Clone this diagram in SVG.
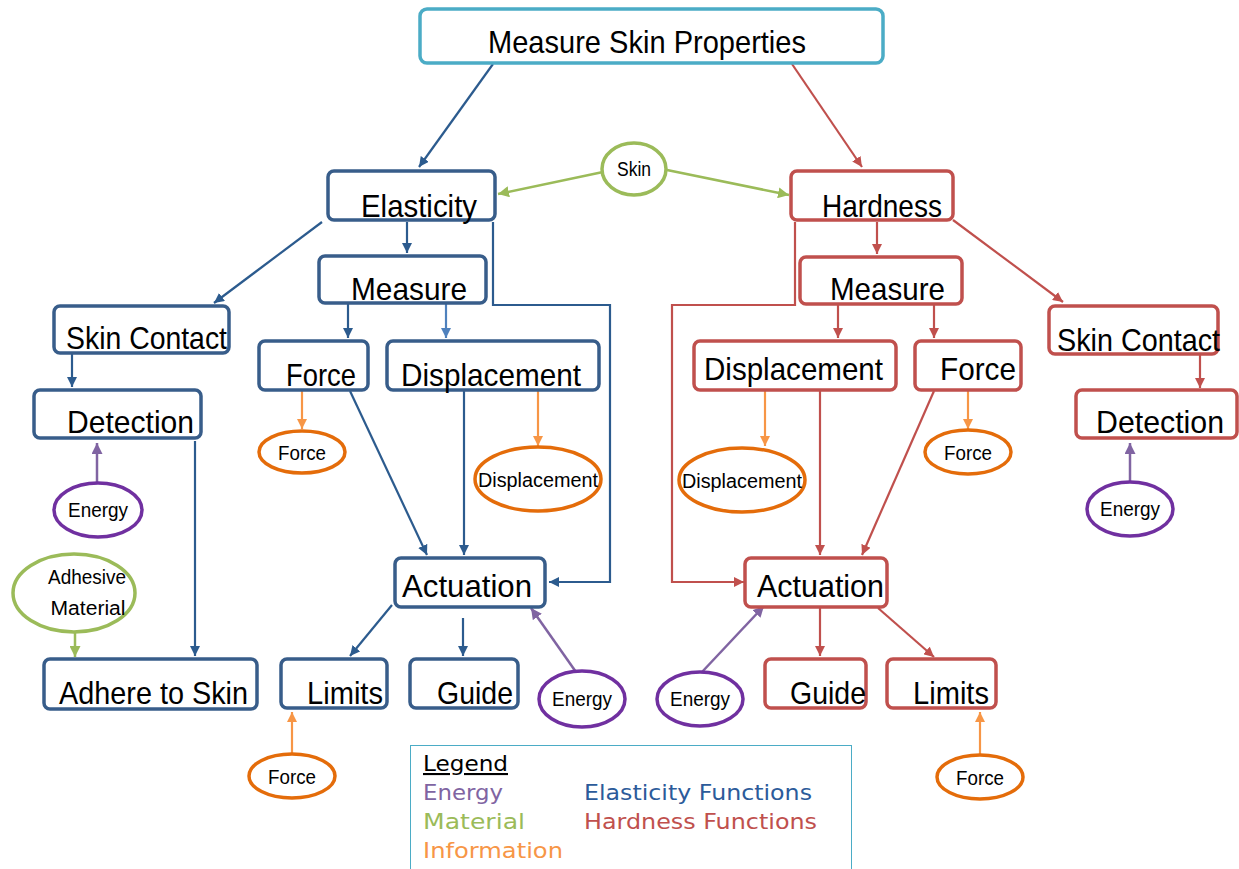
<svg xmlns="http://www.w3.org/2000/svg" width="1239" height="869" viewBox="0 0 1239 869">
<defs>
<style>
.bb{fill:#fff;stroke:#385d8a;stroke-width:3.5}
.rb{fill:#fff;stroke:#c0504d;stroke-width:3.5}
.tb{fill:#fff;stroke:#4bacc6;stroke-width:3.5}
.lbl{font-family:"Liberation Sans Narrow","Liberation Sans",sans-serif;font-size:32px;fill:#000}
.sm{font-family:"Liberation Sans Narrow","Liberation Sans",sans-serif;font-size:20px;fill:#000}
.oe{fill:#fff;stroke:#e46c0a;stroke-width:3.5}
.pe{fill:#fff;stroke:#7030a0;stroke-width:3.5}
.ge{fill:#fff;stroke:#9bbb59;stroke-width:3.5}
.cb{fill:none;stroke:#2c5b8e;stroke-width:2.2}
.cl{fill:none;stroke:#4f81bd;stroke-width:2.2}
.cr{fill:none;stroke:#c0504d;stroke-width:2.2}
.cg{fill:none;stroke:#9bbb59;stroke-width:2.5}
.co{fill:none;stroke:#f79646;stroke-width:2.2}
.cp{fill:none;stroke:#8064a2;stroke-width:2.5}
.lg{font-family:"DejaVu Sans",sans-serif;font-size:21px}
</style>
<marker id="ab" viewBox="0 0 10 10" refX="10" refY="5" markerWidth="10" markerHeight="10" markerUnits="userSpaceOnUse" orient="auto"><path d="M0,0 L10,5 L0,10 z" fill="#2c5b8e"/></marker>
<marker id="al" viewBox="0 0 10 10" refX="10" refY="5" markerWidth="10" markerHeight="10" markerUnits="userSpaceOnUse" orient="auto"><path d="M0,0 L10,5 L0,10 z" fill="#4f81bd"/></marker>
<marker id="ar" viewBox="0 0 10 10" refX="10" refY="5" markerWidth="10" markerHeight="10" markerUnits="userSpaceOnUse" orient="auto"><path d="M0,0 L10,5 L0,10 z" fill="#c0504d"/></marker>
<marker id="ag" viewBox="0 0 10 10" refX="10" refY="5" markerWidth="11" markerHeight="11" markerUnits="userSpaceOnUse" orient="auto"><path d="M0,0 L10,5 L0,10 z" fill="#9bbb59"/></marker>
<marker id="ao" viewBox="0 0 10 10" refX="10" refY="5" markerWidth="10" markerHeight="10" markerUnits="userSpaceOnUse" orient="auto"><path d="M0,0 L10,5 L0,10 z" fill="#f79646"/></marker>
<marker id="ap" viewBox="0 0 10 10" refX="10" refY="5" markerWidth="11" markerHeight="11" markerUnits="userSpaceOnUse" orient="auto"><path d="M0,0 L10,5 L0,10 z" fill="#8064a2"/></marker>
</defs>
<rect width="1239" height="869" fill="#fff"/>

<g id="connectors">
<line class="cb" x1="493" y1="64" x2="419" y2="167" marker-end="url(#ab)"/>
<line class="cr" x1="792" y1="64" x2="862" y2="167" marker-end="url(#ar)"/>
<line class="cg" x1="603" y1="172" x2="498" y2="194" marker-end="url(#ag)"/>
<line class="cg" x1="667" y1="170" x2="789" y2="195" marker-end="url(#ag)"/>
<line class="cb" x1="322" y1="222" x2="214" y2="303" marker-end="url(#ab)"/>
<line class="cb" x1="407" y1="222" x2="407" y2="253" marker-end="url(#ab)"/>
<polyline class="cb" points="493,222 493,305 610,305 610,582 549,582" marker-end="url(#ab)"/>
<line class="cb" x1="72" y1="354" x2="72" y2="387" marker-end="url(#ab)"/>
<line class="cp" x1="97" y1="483" x2="97" y2="443" marker-end="url(#ap)"/>
<line class="cb" x1="195" y1="441" x2="195" y2="656" marker-end="url(#ab)"/>
<line class="cg" x1="75" y1="632" x2="75" y2="657" marker-end="url(#ag)"/>
<line class="cb" x1="348" y1="304" x2="348" y2="338" marker-end="url(#ab)"/>
<line class="cl" x1="446" y1="304" x2="446" y2="338" marker-end="url(#al)"/>
<line class="co" x1="302" y1="391" x2="302" y2="429" marker-end="url(#ao)"/>
<line class="co" x1="538" y1="391" x2="538" y2="446" marker-end="url(#ao)"/>
<line class="cb" x1="350" y1="391" x2="427" y2="555" marker-end="url(#ab)"/>
<line class="cb" x1="464" y1="391" x2="464" y2="555" marker-end="url(#ab)"/>
<line class="cb" x1="392" y1="605" x2="350" y2="656" marker-end="url(#ab)"/>
<line class="cb" x1="463" y1="618" x2="463" y2="656" marker-end="url(#ab)"/>
<line class="cp" x1="576" y1="672" x2="531" y2="608" marker-end="url(#ap)"/>
<line class="co" x1="292" y1="754" x2="292" y2="712" marker-end="url(#ao)"/>
<polyline class="cr" points="795,222 795,305 672,305 672,582 744,582" marker-end="url(#ar)"/>
<line class="cr" x1="877" y1="222" x2="877" y2="254" marker-end="url(#ar)"/>
<line class="cr" x1="953" y1="220" x2="1063" y2="302" marker-end="url(#ar)"/>
<line class="cr" x1="838" y1="305" x2="838" y2="338" marker-end="url(#ar)"/>
<line class="cr" x1="934" y1="305" x2="934" y2="338" marker-end="url(#ar)"/>
<line class="cr" x1="1200" y1="355" x2="1200" y2="388" marker-end="url(#ar)"/>
<line class="cp" x1="1130" y1="482" x2="1130" y2="443" marker-end="url(#ap)"/>
<line class="co" x1="765" y1="391" x2="765" y2="446" marker-end="url(#ao)"/>
<line class="co" x1="968" y1="391" x2="968" y2="429" marker-end="url(#ao)"/>
<line class="cr" x1="820" y1="391" x2="820" y2="555" marker-end="url(#ar)"/>
<line class="cr" x1="934" y1="391" x2="862" y2="555" marker-end="url(#ar)"/>
<line class="cr" x1="820" y1="608" x2="820" y2="656" marker-end="url(#ar)"/>
<line class="cr" x1="878" y1="608" x2="934" y2="657" marker-end="url(#ar)"/>
<line class="cp" x1="702" y1="672" x2="764" y2="606" marker-end="url(#ap)"/>
<line class="co" x1="980" y1="754" x2="980" y2="712" marker-end="url(#ao)"/>
</g>

<g id="measure-skin-properties"><rect class="tb" x="420" y="9" width="463" height="54" rx="7"/><text class="lbl" x="488" y="53" textLength="318" lengthAdjust="spacingAndGlyphs">Measure Skin Properties</text></g>
<g id="skin"><ellipse class="ge" cx="634" cy="169" rx="32" ry="26"/><text class="sm" x="634" y="176" text-anchor="middle" textLength="34" lengthAdjust="spacingAndGlyphs">Skin</text></g>

<g id="elasticity"><rect class="bb" x="328" y="171" width="167" height="49" rx="6"/><text class="lbl" x="361" y="217" textLength="116" lengthAdjust="spacingAndGlyphs">Elasticity</text></g>
<g id="e-skin-contact"><rect class="bb" x="54" y="306" width="175" height="47" rx="6"/><text class="lbl" x="66" y="349" textLength="161" lengthAdjust="spacingAndGlyphs">Skin Contact</text></g>
<g id="e-detection"><rect class="bb" x="34" y="390" width="167" height="48" rx="6"/><text class="lbl" x="67" y="433" textLength="127" lengthAdjust="spacingAndGlyphs">Detection</text></g>
<g id="e-energy-detect"><ellipse class="pe" cx="98" cy="510" rx="44" ry="27"/><text class="sm" x="98" y="517" text-anchor="middle" textLength="60" lengthAdjust="spacingAndGlyphs">Energy</text></g>
<g id="adhesive-material"><ellipse class="ge" cx="74" cy="593" rx="61" ry="39"/><text class="sm" x="87" y="584" text-anchor="middle" textLength="78" lengthAdjust="spacingAndGlyphs">Adhesive</text><text class="sm" x="88" y="615" text-anchor="middle" textLength="75" lengthAdjust="spacingAndGlyphs">Material</text></g>
<g id="adhere-to-skin"><rect class="bb" x="44" y="659" width="213" height="50" rx="6"/><text class="lbl" x="59" y="704" textLength="189" lengthAdjust="spacingAndGlyphs">Adhere to Skin</text></g>
<g id="e-measure"><rect class="bb" x="319" y="256" width="167" height="47" rx="6"/><text class="lbl" x="351" y="300" textLength="116" lengthAdjust="spacingAndGlyphs">Measure</text></g>
<g id="e-force"><rect class="bb" x="259" y="341" width="109" height="49" rx="6"/><text class="lbl" x="286" y="386" textLength="70" lengthAdjust="spacingAndGlyphs">Force</text></g>
<g id="e-displacement"><rect class="bb" x="387" y="341" width="212" height="49" rx="6"/><text class="lbl" x="401" y="386" textLength="180" lengthAdjust="spacingAndGlyphs">Displacement</text></g>
<g id="e-force-info"><ellipse class="oe" cx="302" cy="452" rx="43" ry="21"/><text class="sm" x="302" y="460" text-anchor="middle" textLength="48" lengthAdjust="spacingAndGlyphs">Force</text></g>
<g id="e-displacement-info"><ellipse class="oe" cx="538" cy="479" rx="63" ry="32"/><text class="sm" x="538" y="487" text-anchor="middle" textLength="120" lengthAdjust="spacingAndGlyphs">Displacement</text></g>
<g id="e-actuation"><rect class="bb" x="395" y="558" width="150" height="49" rx="6"/><text class="lbl" x="402" y="597" textLength="130" lengthAdjust="spacingAndGlyphs">Actuation</text></g>
<g id="e-limits"><rect class="bb" x="281" y="659" width="106" height="49" rx="6"/><text class="lbl" x="307" y="704" textLength="76" lengthAdjust="spacingAndGlyphs">Limits</text></g>
<g id="e-guide"><rect class="bb" x="410" y="659" width="108" height="49" rx="6"/><text class="lbl" x="437" y="704" textLength="76" lengthAdjust="spacingAndGlyphs">Guide</text></g>
<g id="e-energy-act"><ellipse class="pe" cx="582" cy="699" rx="43" ry="28"/><text class="sm" x="582" y="706" text-anchor="middle" textLength="60" lengthAdjust="spacingAndGlyphs">Energy</text></g>
<g id="e-force-limits"><ellipse class="oe" cx="292" cy="776" rx="43" ry="22"/><text class="sm" x="292" y="784" text-anchor="middle" textLength="48" lengthAdjust="spacingAndGlyphs">Force</text></g>

<g id="hardness"><rect class="rb" x="791" y="171" width="162" height="49" rx="6"/><text class="lbl" x="822" y="217" textLength="120" lengthAdjust="spacingAndGlyphs">Hardness</text></g>
<g id="h-measure"><rect class="rb" x="800" y="257" width="162" height="47" rx="6"/><text class="lbl" x="830" y="300" textLength="115" lengthAdjust="spacingAndGlyphs">Measure</text></g>
<g id="h-displacement"><rect class="rb" x="694" y="341" width="202" height="49" rx="6"/><text class="lbl" x="704" y="380" textLength="179" lengthAdjust="spacingAndGlyphs">Displacement</text></g>
<g id="h-force"><rect class="rb" x="915" y="341" width="106" height="49" rx="6"/><text class="lbl" x="940" y="380" textLength="76" lengthAdjust="spacingAndGlyphs">Force</text></g>
<g id="h-skin-contact"><rect class="rb" x="1049" y="306" width="169" height="48" rx="6"/><text class="lbl" x="1057" y="351" textLength="163" lengthAdjust="spacingAndGlyphs">Skin Contact</text></g>
<g id="h-detection"><rect class="rb" x="1076" y="390" width="161" height="48" rx="6"/><text class="lbl" x="1096" y="433" textLength="128" lengthAdjust="spacingAndGlyphs">Detection</text></g>
<g id="h-energy-detect"><ellipse class="pe" cx="1130" cy="509" rx="43" ry="27"/><text class="sm" x="1130" y="516" text-anchor="middle" textLength="60" lengthAdjust="spacingAndGlyphs">Energy</text></g>
<g id="h-displacement-info"><ellipse class="oe" cx="742" cy="480" rx="63" ry="32"/><text class="sm" x="742" y="488" text-anchor="middle" textLength="120" lengthAdjust="spacingAndGlyphs">Displacement</text></g>
<g id="h-force-info"><ellipse class="oe" cx="968" cy="452" rx="43" ry="22"/><text class="sm" x="968" y="460" text-anchor="middle" textLength="48" lengthAdjust="spacingAndGlyphs">Force</text></g>
<g id="h-actuation"><rect class="rb" x="745" y="558" width="142" height="49" rx="6"/><text class="lbl" x="757" y="597" textLength="127" lengthAdjust="spacingAndGlyphs">Actuation</text></g>
<g id="h-guide"><rect class="rb" x="765" y="659" width="101" height="49" rx="6"/><text class="lbl" x="790" y="704" textLength="76" lengthAdjust="spacingAndGlyphs">Guide</text></g>
<g id="h-limits"><rect class="rb" x="887" y="659" width="109" height="49" rx="6"/><text class="lbl" x="913" y="704" textLength="76" lengthAdjust="spacingAndGlyphs">Limits</text></g>
<g id="h-energy-act"><ellipse class="pe" cx="700" cy="699" rx="43" ry="27"/><text class="sm" x="700" y="706" text-anchor="middle" textLength="60" lengthAdjust="spacingAndGlyphs">Energy</text></g>
<g id="h-force-limits"><ellipse class="oe" cx="980" cy="777" rx="43" ry="22"/><text class="sm" x="980" y="785" text-anchor="middle" textLength="48" lengthAdjust="spacingAndGlyphs">Force</text></g>

<g id="legend">
<rect x="410.5" y="745.5" width="441" height="130" fill="#fff" stroke="#4bacc6" stroke-width="1"/>
<text class="lg" x="423" y="771" fill="#000" text-decoration="underline" textLength="85" lengthAdjust="spacingAndGlyphs">Legend</text>
<text class="lg" x="423" y="800" fill="#8064a2" textLength="80" lengthAdjust="spacingAndGlyphs">Energy</text>
<text class="lg" x="423" y="829" fill="#9bbb59" textLength="102" lengthAdjust="spacingAndGlyphs">Material</text>
<text class="lg" x="423" y="858" fill="#f79646" textLength="140" lengthAdjust="spacingAndGlyphs">Information</text>
<text class="lg" x="584" y="800" fill="#2c5b9a" textLength="228" lengthAdjust="spacingAndGlyphs">Elasticity Functions</text>
<text class="lg" x="584" y="829" fill="#c0504d" textLength="233" lengthAdjust="spacingAndGlyphs">Hardness Functions</text>
</g>
</svg>
